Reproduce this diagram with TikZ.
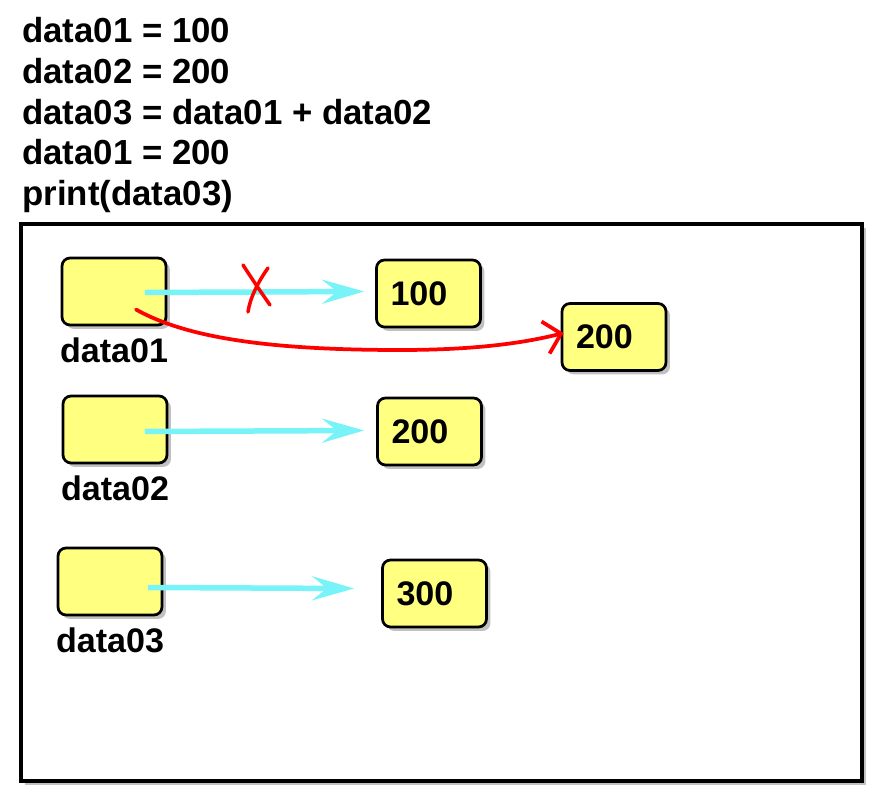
\documentclass[tikz,border=0pt]{standalone}
\usepackage{fontspec}
\setmainfont{Liberation Sans}
\usetikzlibrary{positioning,calc,shadows,arrows.meta}
\definecolor{boxyellow}{RGB}{255,255,128}
\definecolor{arrowcyan}{RGB}{120,244,248}
\tikzset{
  shade box/.style={drop shadow={shadow xshift=0.08cm, shadow yshift=-0.08cm, opacity=0.4, fill=black!60}},
  varbox/.style={draw=black, line width=0.055cm, fill=boxyellow, rounded corners=0.16cm,
    minimum width=2.08cm, minimum height=1.34cm, shade box},
  valbox/.style={varbox, text width=1.52cm, inner xsep=0.28cm, align=left,
    font=\fontsize{19.4}{22}\selectfont\bfseries},
  varlabel/.style={inner sep=0, font=\fontsize{19.4}{22}\selectfont\bfseries},
  refarrow/.style={arrowcyan, line width=0.11cm,
    -{Stealth[length=0.84cm, width=0.48cm, inset=0.3cm]}},
  newref/.style={red, line width=0.075cm, line cap=round,
    -{Straight Barb[length=0.32cm, width=0.66cm, line width=0.075cm]}},
  cross/.style={red, line width=0.07cm, line cap=round}
}
\begin{document}
\begin{tikzpicture}[x=0.02cm, y=-0.02cm]
\useasboundingbox (0,0) rectangle (890,800);

% program text
\node[anchor=north west, inner sep=0, align=left,
  font=\fontsize{19.8}{23.2}\selectfont\bfseries] (code) at (22,17)
  {data01 = 100\\data02 = 200\\data03 = data01 + data02\\data01 = 200\\print(data03)};

% memory frame
\draw[line width=0.075cm, fill=white, shade box] (21,224) rectangle (862,781);

% variables
\node[varbox] (v1) at (114,291.5) {};
\node[varbox] (v2) at (115,429.5) {};
\node[varbox] (v3) at (110,581.5) {};
\node[varlabel, below=0.22cm of v1] (l1) {data01};
\node[varlabel, below=0.22cm of v2] (l2) {data02};
\node[varlabel, below=0.22cm of v3] (l3) {data03};

% values
\node[valbox] (n100) at (428.5,293.5) {100};
\node[valbox] (n200b) at (614,337) {200};
\node[valbox] (n200) at (429.5,431.5) {200};
\node[valbox] (n300) at (434.5,593.5) {300};

% references
\draw[refarrow] ($(v1.center)+(31,1)$) -- ($(n100.west)+(-11,-2)$);
\draw[refarrow] ($(v2.center)+(30,2)$) -- ($(n200.west)+(-12,-1)$);
\draw[refarrow] ($(v3.center)+(38,6)$) -- ($(n300.west)+(-27,-5)$);

% old reference crossed out
\coordinate (x) at (258,290);
\draw[cross] ($(x)+(-15,-25)$) .. controls ($(x)+(-2,-5)$) and ($(x)+(5,5)$) .. ($(x)+(12,15)$);
\draw[cross] ($(x)+(10,-22)$) .. controls ($(x)+(0,-8)$) and ($(x)+(-8,8)$) .. ($(x)+(-10,22)$);

% new reference
\draw[newref] ($(v1.center)+(22,18)$) .. controls (190,340) and (280,350) .. (400,350)
  .. controls (470,350) and (520,344) .. ($(n200b.west)+(3,-4)$);
\end{tikzpicture}
\end{document}
